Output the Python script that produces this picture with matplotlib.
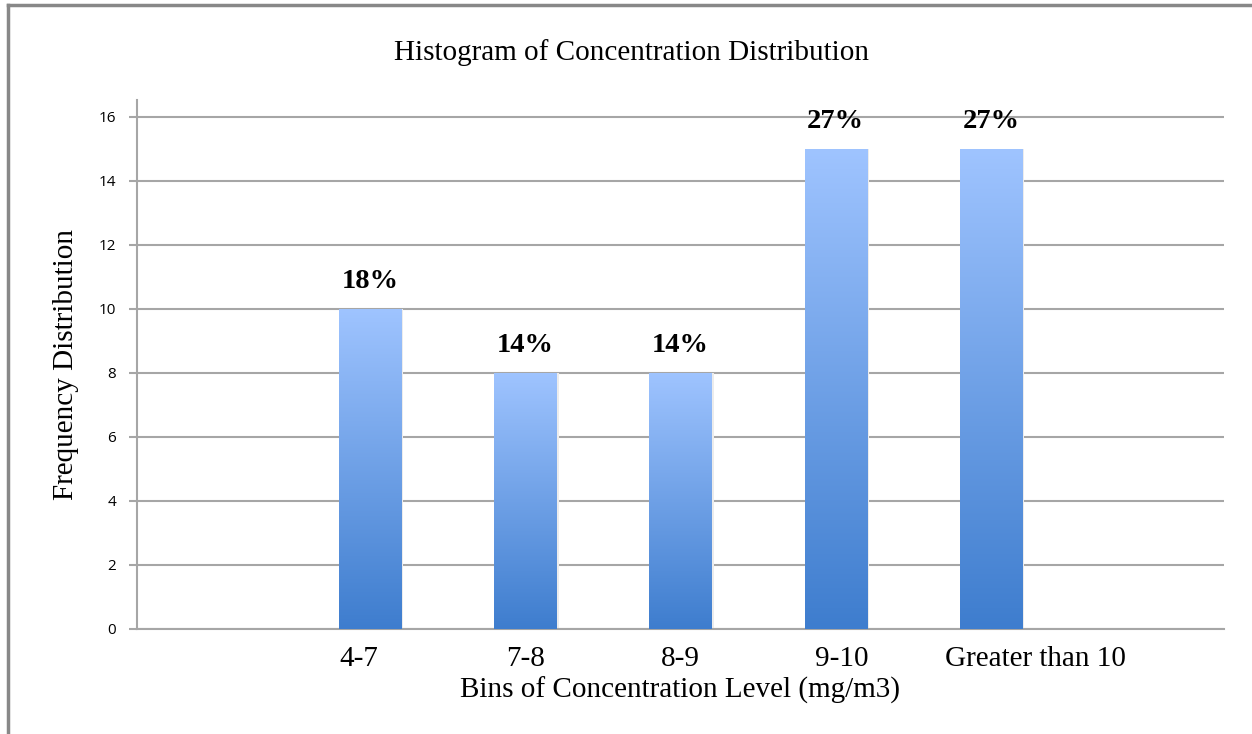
import numpy as np
import matplotlib.pyplot as plt
import matplotlib.transforms as mtransforms
from matplotlib.colors import LinearSegmentedColormap
from matplotlib.patches import Rectangle

# Häufigkeiten je Konzentrationsklasse (erste und letzte Position bleiben leer)
kategorien = ['', '4-7', '7-8', '8-9', '9-10', 'Greater than 10', '']
haeufigkeit = [0, 10, 8, 8, 15, 15, 0]
y_ticks = [0, 2, 4, 6, 8, 10, 12, 14, 16]

serif = ['Liberation Serif', 'DejaVu Serif']
sans = ['Open Sans', 'DejaVu Sans']
grau = '#a6a6a6'

fig = plt.figure(figsize=(12.52, 7.34), dpi=100)
ax = fig.add_axes([0.1094, 0.1431, 0.8682, 0.7207])

x = np.arange(len(kategorien))
breite = 0.4
verlauf = LinearSegmentedColormap.from_list('blau', ['#3e7dce', '#9fc4ff'])
gradient = np.linspace(0, 1, 256).reshape(-1, 1)

gesamt = sum(haeufigkeit)
for xi, h in zip(x, haeufigkeit):
    if h == 0:
        continue
    # leichter Schatten rechts neben dem Balken
    ax.add_patch(Rectangle((xi - breite / 2 + 0.015, 0), breite, h,
                           facecolor='#ececec', edgecolor='none', zorder=2))
    balken = ax.bar(xi, h, width=breite, color='none', edgecolor='none', zorder=3)[0]
    bild = ax.imshow(gradient, cmap=verlauf, origin='lower', aspect='auto',
                     extent=(xi - breite / 2, xi + breite / 2, 0, h), zorder=3)
    bild.set_clip_path(balken)
    prozent = round(h / gesamt * 100)
    ax.text(xi, h + 0.87, f'{prozent}%', ha='center', va='center',
            fontsize=20.5, fontweight='bold', family=serif, zorder=4)

ax.set_xlim(-0.5, len(kategorien) - 0.5)
ax.set_ylim(0, 16.53)
ax.set_yticks(y_ticks)
ax.set_yticklabels([str(t) for t in y_ticks], family=sans, fontsize=11)
ax.set_xticks(x)
ax.set_xticklabels(kategorien, family=serif, fontsize=21)
ax.tick_params(axis='x', length=0, pad=12)
ax.tick_params(axis='y', length=6, width=1.5, color=grau, pad=9)

# Kategorienbeschriftungen leicht verschoben (Punkte)
verschiebung = {'4-7': -8, '9-10': 4, 'Greater than 10': 32}
for lbl in ax.get_xticklabels():
    dx = verschiebung.get(lbl.get_text(), 0)
    if dx:
        lbl.set_transform(lbl.get_transform() +
                          mtransforms.ScaledTranslation(dx / 72, 0, fig.dpi_scale_trans))

ax.yaxis.grid(True, color=grau, linewidth=1.5, zorder=1)
ax.set_axisbelow(True)
for seite in ['top', 'right']:
    ax.spines[seite].set_visible(False)
for seite in ['left', 'bottom']:
    ax.spines[seite].set_color(grau)
    ax.spines[seite].set_linewidth(1.5)

ax.set_xlabel('Bins of Concentration Level (mg/m3)', family=serif, fontsize=21, labelpad=4)
ax.set_ylabel('Frequency Distribution', family=serif, fontsize=21, labelpad=14)
fig.text(0.5045, 0.928, 'Histogram of Concentration Distribution', ha='center', va='center',
         family=serif, fontsize=21)

# Rahmen oben und links
fig.add_artist(plt.Line2D([0.0064, 0.0064], [0, 0.993], color='#888888', linewidth=2.5,
                          transform=fig.transFigure))
fig.add_artist(plt.Line2D([0.0064, 1], [0.993, 0.993], color='#888888', linewidth=2.5,
                          transform=fig.transFigure))

fig.savefig('out.png', dpi=100)
